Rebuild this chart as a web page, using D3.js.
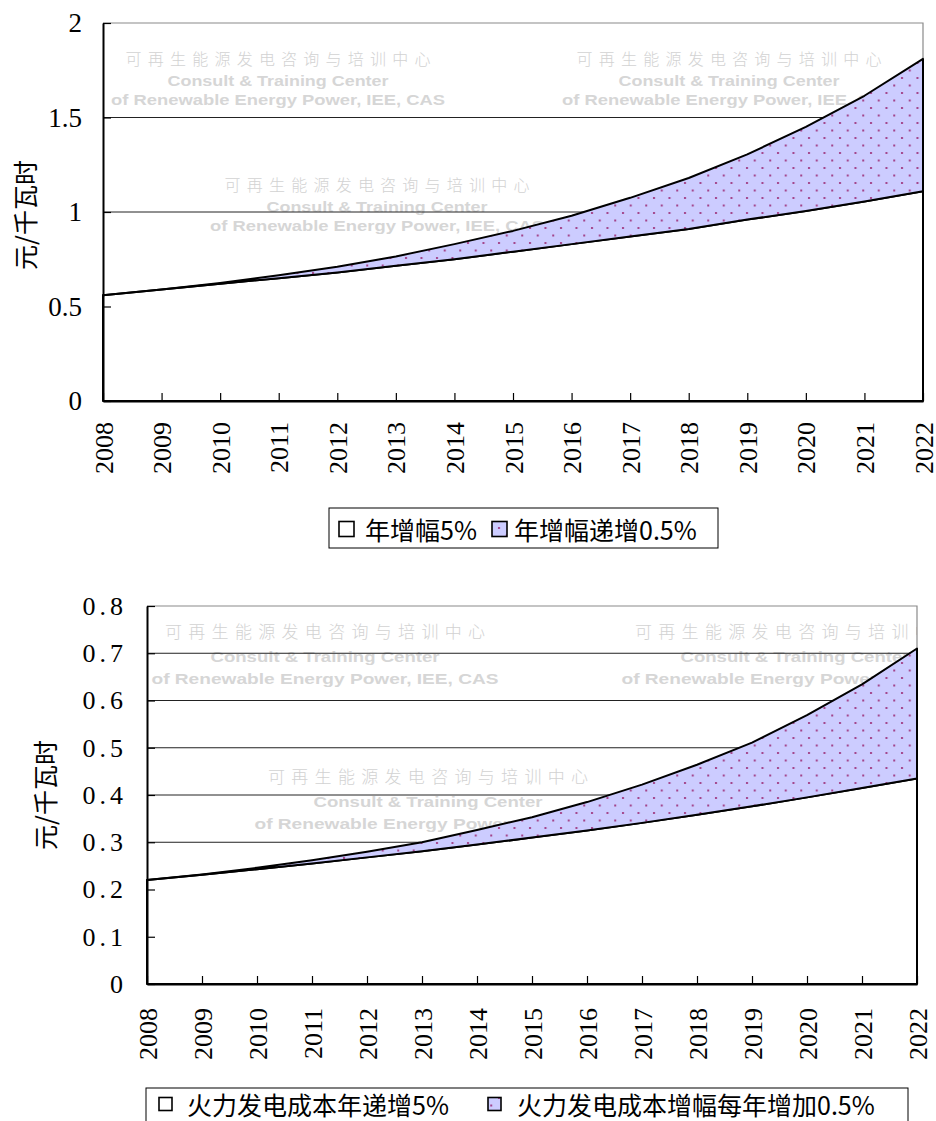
<!DOCTYPE html>
<html>
<head>
<meta charset="utf-8">
<script src="https://cdn.jsdelivr.net/npm/d3@7"></script>
<style>
  html, body { margin: 0; padding: 0; background: #fff; }
  svg { display: block; }
</style>
</head>
<body>
<svg id="chart" width="936" height="1121"></svg>
<script>
// ---- data ----
const years = [2008, 2009, 2010, 2011, 2012, 2013, 2014, 2015, 2016, 2017, 2018, 2019, 2020, 2021, 2022];

// Renewable price path, 元/千瓦时
const priceGrowth5 = [0.56, 0.59, 0.62, 0.65, 0.68, 0.715, 0.75, 0.79, 0.83, 0.87, 0.91, 0.96, 1.005, 1.055, 1.11];
const priceGrowthRising = [0.56, 0.59, 0.625, 0.665, 0.71, 0.765, 0.83, 0.90, 0.98, 1.075, 1.18, 1.305, 1.45, 1.615, 1.81];

// Thermal generation cost path, 元/千瓦时
const thermalGrowth5 = [0.22, 0.231, 0.243, 0.255, 0.268, 0.281, 0.295, 0.31, 0.325, 0.341, 0.358, 0.376, 0.395, 0.415, 0.435];
const thermalGrowthRising = [0.22, 0.232, 0.246, 0.262, 0.28, 0.30, 0.326, 0.353, 0.385, 0.422, 0.464, 0.511, 0.569, 0.634, 0.71];

const priceTicks = [0, 0.5, 1, 1.5, 2];
const priceTickLabels = ["0", "0.5", "1", "1.5", "2"];
const thermalTicks = [0, 0.1, 0.2, 0.3, 0.4, 0.5, 0.6, 0.7, 0.8];
const thermalTickLabels = ["0", "0.1", "0.2", "0.3", "0.4", "0.5", "0.6", "0.7", "0.8"];

const priceLegend = ["年增幅5%", "年增幅递增0.5%"];
const thermalLegend = ["火力发电成本年递增5%", "火力发电成本增幅每年增加0.5%"];
const yTitle = "元/千瓦时";
const watermarkLines = ["可再生能源发电咨询与培训中心", "Consult & Training Center", "of Renewable Energy Power, IEE, CAS"];

// ---- drawing ----
const svg = d3.select("#chart");
const defs = svg.append("defs");
const SERIF = "'Liberation Serif', 'Times New Roman', serif";
const CJK = "'Noto Sans CJK SC', sans-serif";
const SANS = "'Liberation Sans', Arial, sans-serif";

// lavender fill with purple dots
const pat = defs.append("pattern")
  .attr("id", "dots").attr("patternUnits", "userSpaceOnUse")
  .attr("width", 15.5).attr("height", 15);
pat.append("rect").attr("width", 15.5).attr("height", 15).attr("fill", "#ccccff");
pat.append("rect").attr("x", 2).attr("y", 2).attr("width", 2).attr("height", 2).attr("fill", "#a3438a");
pat.append("rect").attr("x", 9.75).attr("y", 9.5).attr("width", 2).attr("height", 2).attr("fill", "#a3438a");

function drawChart(cfg) {
  const g = svg.append("g");
  const x = d3.scalePoint().domain(years).range([cfg.left, cfg.right]);
  const y = d3.scaleLinear().domain([0, cfg.ymax]).range([cfg.bottom, cfg.top]);

  const clipId = "clip-" + cfg.id;
  defs.append("clipPath").attr("id", clipId)
    .append("rect").attr("x", cfg.left).attr("y", cfg.top)
    .attr("width", cfg.right - cfg.left).attr("height", cfg.bottom - cfg.top);

  // watermark blocks
  const wm = g.append("g").attr("clip-path", `url(#${clipId})`);
  cfg.marks.forEach(m => {
    watermarkLines.forEach((t, i) => {
      wm.append("text")
        .attr("x", m.cx).attr("y", m.cy + cfg.wmDy[i])
        .attr("text-anchor", "middle").attr("dominant-baseline", "central")
        .attr("font-family", i === 0 ? CJK : SANS)
        .attr("font-size", cfg.wmSize[i])
        .attr("font-weight", i === 0 ? 300 : 600)
        .attr("fill", i === 0 ? "#d2d2d2" : "#d6d6d6")
        .attr("textLength", cfg.wmLen[i])
        .attr("lengthAdjust", i === 0 ? "spacing" : "spacingAndGlyphs")
        .text(t);
    });
  });

  // gridlines
  g.append("g").selectAll("line")
    .data(cfg.ticks.filter(d => d > 0 && d < cfg.ymax))
    .join("line")
    .attr("x1", cfg.left).attr("x2", cfg.right)
    .attr("y1", d => y(d)).attr("y2", d => y(d))
    .attr("stroke", "#222").attr("stroke-width", 1);

  // plot frame (top / right)
  g.append("path")
    .attr("d", `M${cfg.left},${cfg.top}H${cfg.right}V${cfg.bottom}`)
    .attr("fill", "none").attr("stroke", "#8a8a8a").attr("stroke-width", 1.2);

  // base series area (white) and rising band (dotted lavender)
  const base = cfg.low.map((v, i) => ({ yr: years[i], v }));
  const band = cfg.high.map((v, i) => ({ yr: years[i], lo: cfg.low[i], hi: v }));

  g.append("path").datum(base)
    .attr("d", d3.area().x(d => x(d.yr)).y0(y(0)).y1(d => y(d.v)))
    .attr("fill", "#fff").attr("stroke", "#000").attr("stroke-width", 2)
    .attr("stroke-linejoin", "round");

  g.append("path").datum(band)
    .attr("d", d3.area().x(d => x(d.yr)).y0(d => y(d.lo)).y1(d => y(d.hi)))
    .attr("fill", "url(#dots)").attr("stroke", "#000").attr("stroke-width", 2)
    .attr("stroke-linejoin", "round");

  // y axis
  const yAxis = g.append("g")
    .attr("transform", `translate(${cfg.left},0)`)
    .call(d3.axisLeft(y).tickValues(cfg.ticks).tickSize(-8).tickSizeOuter(0)
      .tickPadding(cfg.yPad).tickFormat((d, i) => cfg.tickLabels[i]));
  yAxis.select(".domain").attr("stroke", "#000").attr("stroke-width", 2);
  yAxis.selectAll(".tick line").attr("stroke", "#000").attr("stroke-width", 1.2);
  yAxis.selectAll(".tick text")
    .attr("font-family", SERIF).attr("font-size", cfg.tickSize).attr("fill", "#000")
    .attr("letter-spacing", cfg.tickSpacing)
    .attr("dx", cfg.tickSpacing);

  // x axis
  const xAxis = g.append("g")
    .attr("transform", `translate(0,${cfg.bottom})`)
    .call(d3.axisBottom(x).tickSize(-8).tickSizeOuter(0));
  xAxis.select(".domain").attr("stroke", "#000").attr("stroke-width", 2);
  xAxis.selectAll(".tick line").attr("stroke", "#000").attr("stroke-width", 1.2);
  xAxis.selectAll(".tick text")
    .attr("font-family", SERIF).attr("font-size", cfg.xSize).attr("fill", "#000")
    .attr("transform", "rotate(-90)")
    .attr("text-anchor", "end")
    .attr("x", -cfg.xPad).attr("y", 0).attr("dy", "0.35em");

  // y axis title
  g.append("text")
    .attr("transform", `translate(${cfg.titleX},${cfg.titleY}) rotate(-90)`)
    .attr("text-anchor", "middle").attr("dominant-baseline", "central")
    .attr("font-family", CJK).attr("font-size", 25).attr("fill", "#000")
    .text(yTitle);

  // legend
  const L = cfg.legend;
  const lg = g.append("g");
  lg.append("rect").attr("x", L.x).attr("y", L.y).attr("width", L.w).attr("height", L.h)
    .attr("fill", "#fff").attr("stroke", "#000").attr("stroke-width", 1);
  cfg.legendText.forEach((t, i) => {
    lg.append("rect")
      .attr("x", L.sx[i]).attr("y", L.cy - L.s / 2).attr("width", L.s).attr("height", L.s)
      .attr("fill", i === 0 ? "#fff" : "url(#dots)")
      .attr("stroke", "#000").attr("stroke-width", 1.6);
    lg.append("text")
      .attr("x", L.tx[i]).attr("y", L.cy)
      .attr("dominant-baseline", "central")
      .attr("font-family", CJK).attr("font-size", L.fs).attr("fill", "#000")
      .text(t);
  });
}

drawChart({
  id: "price", left: 103, right: 923, top: 23, bottom: 401, ymax: 2,
  low: priceGrowth5, high: priceGrowthRising,
  ticks: priceTicks, tickLabels: priceTickLabels,
  yPad: 21, tickSize: 27, tickSpacing: 0, xSize: 26, xPad: 21,
  titleX: 24, titleY: 215,
  marks: [{ cx: 278, cy: 58 }, { cx: 377, cy: 184 }, { cx: 729, cy: 58 }],
  wmDy: [0, 23, 42], wmSize: [16, 14, 14], wmLen: [305, 221, 334],
  legendText: priceLegend,
  legend: { x: 329, y: 508, w: 389, h: 40, cy: 529, s: 15, sx: [339, 492], tx: [365, 514], fs: 25 }
});

drawChart({
  id: "thermal", left: 147, right: 917, top: 606, bottom: 984, ymax: 0.8,
  low: thermalGrowth5, high: thermalGrowthRising,
  ticks: thermalTicks, tickLabels: thermalTickLabels,
  yPad: 24, tickSize: 26, tickSpacing: 4, xSize: 26, xPad: 24,
  titleX: 44, titleY: 795,
  marks: [{ cx: 325, cy: 630 }, { cx: 428, cy: 775 }, { cx: 795, cy: 630 }],
  wmDy: [0, 26, 48], wmSize: [17, 15, 15], wmLen: [320, 229, 347],
  legendText: thermalLegend,
  legend: { x: 146, y: 1088, w: 762, h: 44, cy: 1104, s: 13, sx: [159, 488], tx: [187, 517], fs: 25 }
});
</script>
</body>
</html>
